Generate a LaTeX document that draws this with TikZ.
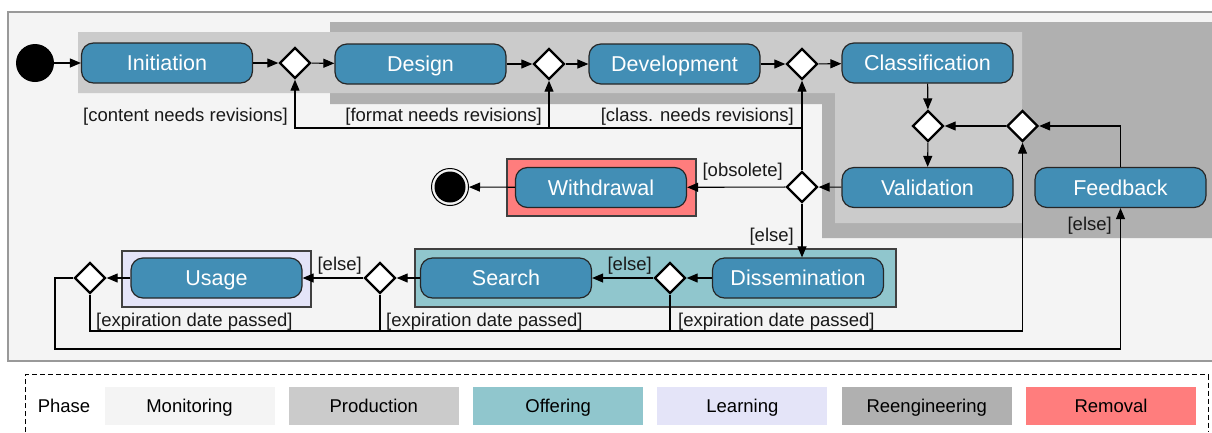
\documentclass[tikz,border=0pt]{standalone}
\usepackage{fontspec}
\setmainfont{Liberation Sans}
\usetikzlibrary{arrows.meta,shapes.geometric}
\definecolor{monitorbg}{HTML}{F4F4F4}
\definecolor{prodbg}{HTML}{CBCBCB}
\definecolor{offerbg}{HTML}{90C6CD}
\definecolor{learnbg}{HTML}{E4E4F8}
\definecolor{reengbg}{HTML}{B0B0B0}
\definecolor{removebg}{HTML}{FF7D7D}
\definecolor{actblue}{HTML}{428EB5}
\definecolor{framegray}{HTML}{999999}
\tikzset{
  activity/.style={draw=black!85, fill=actblue, rounded corners=12pt, line width=1.2pt,
    minimum width=171pt, minimum height=40pt, text=white, text height=16pt, text depth=1pt,
    font=\fontsize{21.5}{25}\selectfont},
  decision/.style={draw, diamond, fill=white, line width=2.4pt, minimum size=31pt, inner sep=0pt},
  guard/.style={font=\fontsize{18.5}{21}\selectfont, text=black!90, inner sep=1pt},
  flow/.style={-{Triangle[length=11pt, width=9pt]}, line width=1.1pt},
  phasebox/.style={draw=black!75, line width=1.1pt},
  legendbox/.style={minimum width=170pt, minimum height=38pt, text height=13pt, text depth=0pt,
    font=\fontsize{18.5}{21}\selectfont}
}
\begin{document}
\begin{tikzpicture} [x = 1pt, y = -1pt]
\useasboundingbox (0, 0) rectangle (1212, 432);
\filldraw[fill=monitorbg, draw=framegray, line width=1.3pt] (1212, 12) -- (8, 12) -- (8, 361) -- (1212, 361);
\fill[reengbg] (330, 22) -- (1212, 22) -- (1212, 238) -- (822, 238) -- (822, 104) -- (330, 104) -- cycle;
\fill[prodbg] (78, 32) -- (1022, 32) -- (1022, 223) -- (835, 223) -- (835, 93) -- (78, 93) -- cycle;
\filldraw[phasebox, fill=removebg] (507, 159) rectangle (696, 216);
\filldraw[phasebox, fill=offerbg] (415, 249) rectangle (896, 307);
\filldraw[phasebox, fill=learnbg] (122, 251) rectangle (311, 307);

\node[circle, fill=black, minimum size=38pt, inner sep=0pt] (start) at (35, 63) {};
\node[activity] (init) at (167, 63) {Initiation};
\node[decision] (d1) at (295, 63) {};
\node[activity] (design) at (420.5, 64) {Design};
\node[decision] (d2) at (549, 64) {};
\node[activity] (devel) at (674.5, 64) {Development};
\node[decision] (d3) at (802, 64) {};
\node[activity] (classif) at (927.5, 63) {Classification};
\node[decision] (d4) at (928, 126) {};
\node[decision] (d5) at (1022.5, 126) {};
\node[activity] (valid) at (927.5, 187.5) {Validation};
\node[activity] (feedback) at (1120.5, 187.5) {Feedback};
\node[decision] (d6) at (802, 187) {};
\node[activity] (withdraw) at (601, 187.5) {Withdrawal};
\node[circle, draw, line width=1pt, minimum size=37pt, inner sep=0pt] (finish) at (450, 187) {};
\fill (finish.center) circle (15.5pt);
\node[activity] (dissem) at (798, 278) {Dissemination};
\node[decision] (d7) at (670, 278) {};
\node[activity] (search) at (506, 278) {Search};
\node[decision] (d8) at (380, 278) {};
\node[activity] (usage) at (216.5, 278) {Usage};
\node[decision] (d9) at (90, 278) {};
\coordinate (rev) at (802, 128);
\coordinate (expcorner) at (1022.5, 331);
\coordinate (elsecorner) at (55, 349);

\node[guard, anchor=east] (gcontent) at (289, 117) {[content needs revisions]};
\node[guard, anchor=east] (gformat) at (543, 117) {[format needs revisions]};
\node[guard, anchor=east] (gclass) at (795, 117) {[class. needs revisions]};
\node[guard, anchor=east] (gobsolete) at (784, 172) {[obsolete]};
\node[guard, anchor=east] (gelse1) at (795, 237) {[else]};
\node[guard, anchor=east] (gelse2) at (653, 266) {[else]};
\node[guard, anchor=east] (gelse3) at (363, 266) {[else]};
\node[guard, anchor=east] (gelse4) at (1113, 226) {[else]};
\node[guard, anchor=west] (gexp1) at (95, 322) {[expiration date passed]};
\node[guard, anchor=west] (gexp2) at (385, 322) {[expiration date passed]};
\node[guard, anchor=west] (gexp3) at (677, 322) {[expiration date passed]};

\draw[flow] (start) -- (init);
\draw[flow] (init) -- (d1);
\draw[flow] (d1) -- (design);
\draw[flow] (design) -- (d2);
\draw[flow] (d2) -- (devel);
\draw[flow] (devel) -- (d3);
\draw[flow] (d3) -- (classif);
\draw[flow] (classif) -- (d4);
\draw[flow] (d4) -- (valid);
\draw[flow] (d5) -- (d4);
\draw[flow] (feedback) |- (d5);
\draw[flow] (valid) -- (d6);
\draw[flow] (d6) -- (withdraw);
\draw[flow] (withdraw) -- (finish);
\draw[flow] (d6) -- (d3);
\draw[flow] (rev) -| (d2);
\draw[flow] (rev) -| (d1);
\draw[flow] (d6.south) -- (d6.south |- dissem.north);
\draw[flow] (dissem) -- (d7);
\draw[flow] (d7) -- (search);
\draw[flow] (search) -- (d8);
\draw[flow] (d8) -- (usage);
\draw[flow] (usage) -- (d9);
\draw[flow] (d9.south) |- (expcorner) -- (d5);
\draw[line width=1.1pt] (d8.south) -- (d8.south |- expcorner);
\draw[line width=1.1pt] (d7.south) -- (d7.south |- expcorner);
\draw[flow] (d9) -- (d9 -| elsecorner) -- (elsecorner) -| (feedback);

\draw[dash pattern=on 5pt off 3pt, line width=0.9pt] (25.5, 432) -- (25.5, 374.5) -- (1208, 374.5) -- (1208, 432);
\node[font=\fontsize{18.5}{21}\selectfont, text height=13pt, text depth=0pt] (phase) at (64, 406) {Phase};
\foreach \name/\col [count=\i from 0] in {Monitoring/monitorbg, Production/prodbg, Offering/offerbg, Learning/learnbg, Reengineering/reengbg, Removal/removebg}
  \node[legendbox, fill=\col] (leg\i) at (189.5 + 184.3 * \i, 406) {\name};
\end{tikzpicture}
\end{document}
